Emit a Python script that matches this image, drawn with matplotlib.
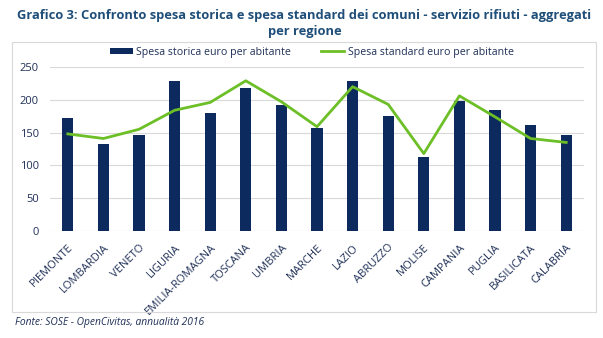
import matplotlib
matplotlib.use("Agg")
import matplotlib.pyplot as plt
from matplotlib.patches import Rectangle
import numpy as np

regions = ["PIEMONTE", "LOMBARDIA", "VENETO", "LIGURIA", "EMILIA-ROMAGNA", "TOSCANA",
           "UMBRIA", "MARCHE", "LAZIO", "ABRUZZO", "MOLISE", "CAMPANIA", "PUGLIA",
           "BASILICATA", "CALABRIA"]
spesa_storica = [172, 133, 147, 229, 180, 218, 192, 157, 229, 175, 113, 198, 184, 161, 147]
spesa_standard = [148, 141, 155, 184, 196, 229, 197, 159, 220, 193, 118, 206, 174, 141, 135]
yticks = [0, 50, 100, 150, 200, 250]

plt.rcParams['font.family'] = ['Open Sans', 'DejaVu Sans']

W, H = 603, 338
fig = plt.figure(figsize=(W / 100, H / 100), dpi=100)
fig.patch.set_facecolor("white")

# chart frame
fig.patches.append(Rectangle((12 / W, 1 - 312 / H), (596 - 12) / W, (312 - 42) / H,
                             transform=fig.transFigure, fill=False,
                             edgecolor="#d9d9d9", linewidth=0.8))

ax = fig.add_axes([50 / W, 1 - 231 / H, (584 - 50) / W, (231 - 67) / H])
x = np.arange(len(regions))
navy = "#0c2a5e"
green = "#6cbf26"
bars = ax.bar(x, spesa_storica, width=0.31, color=navy, zorder=2)
line, = ax.plot(x, spesa_standard, color=green, linewidth=2.0, zorder=3)

ax.set_xlim(-0.5, len(regions) - 0.5)
ax.set_ylim(0, 250)
ax.set_yticks(yticks)
ax.set_yticklabels([str(v) for v in yticks], fontsize=8, color="#1f3057")
ax.yaxis.grid(True, color="#d9d9d9", linewidth=0.8, zorder=0)
ax.set_axisbelow(True)
for s in ax.spines.values():
    s.set_visible(False)
ax.tick_params(axis="y", length=0, pad=8)
ax.tick_params(axis="x", length=0, pad=8)
ax.set_xticks(x)
ax.set_xticklabels(regions, rotation=45, ha="right", rotation_mode="anchor",
                   fontsize=8.0, color="#1f3057")

leg = ax.legend([bars, line], ["Spesa storica euro per abitante", "Spesa standard euro per abitante"],
                loc="center", bbox_to_anchor=(0.49, 1 + 15 / 164), ncol=2, frameon=False,
                fontsize=7.7, handlelength=2.15, handleheight=0.5, columnspacing=2.8,
                borderaxespad=0.0, handletextpad=0.35)
for t in leg.get_texts():
    t.set_color("#1f3057")

fig.text(304 / W, 1 - 16 / H,
         "Grafico 3: Confronto spesa storica e spesa standard dei comuni - servizio rifiuti - aggregati",
         ha="center", va="center", fontsize=9.3, fontweight="bold", color="#1f4e79")
fig.text(305 / W, 1 - 32 / H, "per regione", ha="center", va="center",
         fontsize=9.3, fontweight="bold", color="#1f4e79")
fig.text(15 / W, 1 - 322 / H, "Fonte: SOSE - OpenCivitas, annualità 2016",
         ha="left", va="center", fontsize=7.4, style="italic", color="#1f3057")

fig.savefig("out.png", dpi=100, facecolor="white")
